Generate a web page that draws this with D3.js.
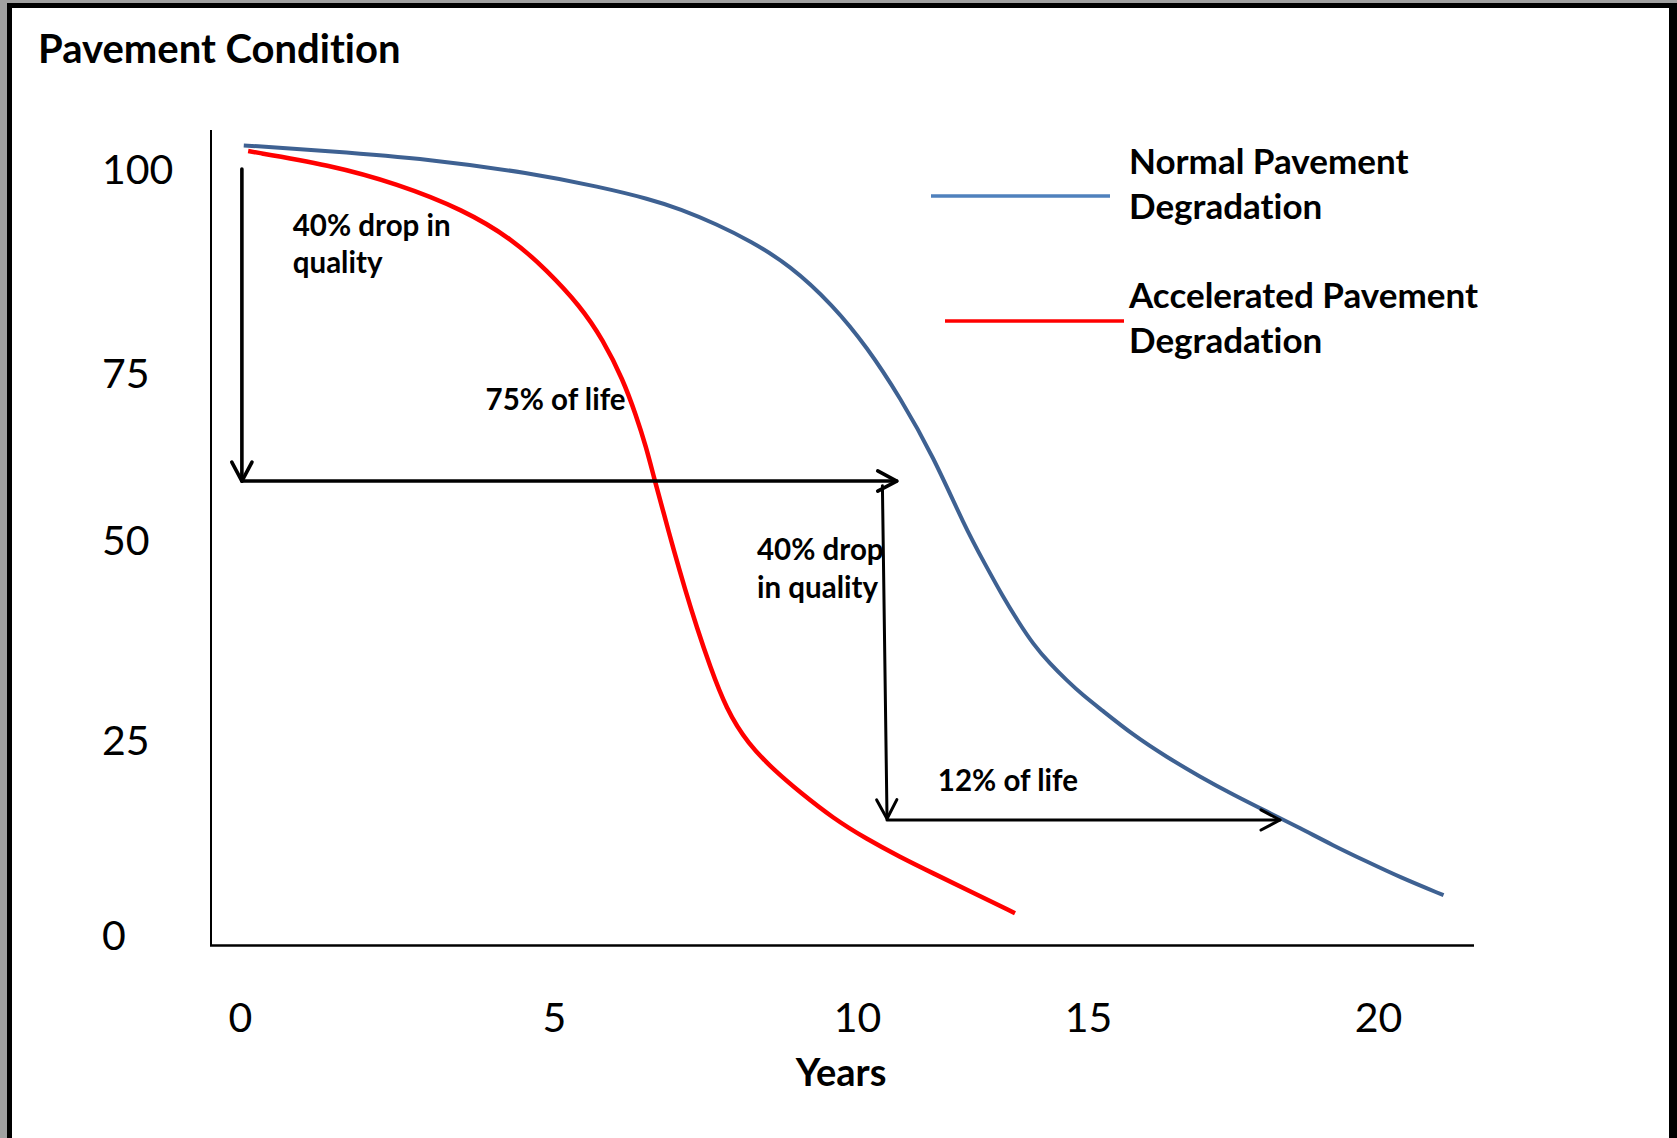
<!DOCTYPE html>
<html>
<head>
<meta charset="utf-8">
<script src="https://cdn.jsdelivr.net/npm/d3@7"></script>
<style>
  html, body { margin: 0; padding: 0; background: #a0a0a0; }
  svg { display: block; }
  text { font-family: Lato, "Open Sans", "DejaVu Sans", sans-serif; fill: #000;
         font-variant-ligatures: none; font-feature-settings: "liga" 0, "clig" 0; }
</style>
</head>
<body>
<svg id="chart" width="1677" height="1138"></svg>
<script>
// ---------------- DATA ----------------
const titleText = "Pavement Condition";
const xAxisTitle = "Years";
const xTicks = [0, 5, 10, 15, 20];
const yTicks = [0, 25, 50, 75, 100];

const seriesNames = ["Normal Pavement Degradation", "Accelerated Pavement Degradation"];
const seriesLabelLines = [["Normal Pavement", "Degradation"], ["Accelerated Pavement", "Degradation"]];

// Normal pavement degradation (years, condition)
const normalYears     = [0.06, 1.43, 3.03, 4.62, 5.76, 6.58, 7.08, 7.69, 8.23, 8.89, 9.60, 10.22, 10.93, 11.65, 12.34,
                         12.77, 13.16, 13.49, 13.81, 14.18, 14.55, 14.89, 15.21, 15.78, 16.36, 16.93, 17.50, 18.09,
                         18.66, 19.22, 19.81, 20.38, 21.13];
const normalCondition = [102.9, 102.2, 101.2, 99.5, 97.8, 96.3, 95.1, 93.2, 91.2, 88.2, 83.3, 78.1, 71.3, 62.5, 51.9,
                         47.0, 42.9, 39.8, 37.0, 34.5, 32.4, 30.6, 28.9, 25.6, 22.8, 20.3, 18.0, 15.8,
                         13.7, 11.5, 9.4, 7.4, 5.1];

// Accelerated pavement degradation (years, condition)
const acceleratedYears     = [0.13, 1.43, 2.50, 3.56, 4.35, 4.88, 5.43, 5.81, 6.14, 6.35, 6.52, 6.65, 6.82, 6.98,
                              7.16, 7.36, 7.57, 7.84, 8.20, 8.65, 9.06, 9.60, 10.21, 10.93, 11.65, 12.45, 13.42];
const acceleratedCondition = [102.2, 100.5, 98.2, 95.0, 91.3, 87.6, 83.2, 79.0, 73.9, 68.7, 63.9, 59.3, 53.7, 48.6,
                              43.9, 39.0, 34.3, 28.9, 24.5, 21.0, 18.3, 15.0, 12.3, 10.0, 7.9, 5.6, 2.8];

// Annotation arrows (years, condition)
const arrowX1 = [0.03, 0.03, 10.55, 10.65];
const arrowY1 = [100.0, 58.8, 58.1, 14.75];
const arrowX2 = [0.03, 10.86, 10.65, 18.31];
const arrowY2 = [58.8, 58.8, 14.9, 14.75];

// Annotation texts, anchored at (years, condition)
const annotationLines = [["40% drop in", "quality"], ["75% of life"], ["40% drop", "in quality"], ["12% of life"]];
const annotationYears = [0.84, 3.91, 8.35, 11.75];
const annotationCondition = [91.8, 69.4, 47.5, 18.5];

// ---------------- DRAW ----------------
const W = 1677, H = 1138;
const svg = d3.select("#chart");

// frame
svg.append("rect").attr("x", 0).attr("y", 0).attr("width", W).attr("height", H).attr("fill", "#a0a0a0");
svg.append("rect").attr("x", 7).attr("y", 3).attr("width", W - 7).attr("height", H - 3).attr("fill", "#000");
svg.append("rect").attr("x", 12).attr("y", 8).attr("width", 1669 - 12).attr("height", H - 8).attr("fill", "#fff");

// scales (hand-drawn diagram: tick labels are unevenly spaced, so polylinear scales)
const x = d3.scaleLinear().domain(xTicks).range([240, 554, 857, 1088, 1378]);
const y = d3.scaleLinear().domain(yTicks).range([935, 740, 540, 372.5, 169]);

// axis lines
svg.append("line").attr("x1", 211).attr("x2", 211).attr("y1", 130).attr("y2", 946)
  .attr("stroke", "#000").attr("stroke-width", 2);
svg.append("line").attr("x1", 210).attr("x2", 1474).attr("y1", 945.5).attr("y2", 945.5)
  .attr("stroke", "#000").attr("stroke-width", 2.5);

// y tick labels
const yAxisG = svg.append("g").attr("transform", "translate(102,0)")
  .call(d3.axisLeft(y).tickValues(yTicks).tickSize(0).tickPadding(0).tickFormat(d3.format("d")));
yAxisG.select(".domain").remove();
yAxisG.selectAll("text").attr("text-anchor", "start").attr("x", 0).attr("dy", "0.36em")
  .style("font-family", "Lato, 'Open Sans', sans-serif").style("font-size", "41px").style("font-weight", 400);

// x tick labels
const xAxisG = svg.append("g").attr("transform", "translate(0,1032)")
  .call(d3.axisBottom(x).tickValues(xTicks).tickSize(0).tickPadding(0).tickFormat(d3.format("d")));
xAxisG.select(".domain").remove();
xAxisG.selectAll("text").attr("y", 0).attr("dy", 0)
  .style("font-family", "Lato, 'Open Sans', sans-serif").style("font-size", "41px").style("font-weight", 400);

// x axis title
svg.append("text").attr("x", 841).attr("y", 1086).attr("text-anchor", "middle")
  .style("font-size", "38px").style("font-weight", 700).text(xAxisTitle);

// title
svg.append("text").attr("x", 38).attr("y", 63)
  .style("font-size", "40px").style("font-weight", 700).text(titleText);

// curves (smooth B-spline through the read points)
const line = d3.line().x(d => x(d[0])).y(d => y(d[1])).curve(d3.curveBasis);
const normalData = normalYears.map((v, i) => [v, normalCondition[i]]);
const accelData = acceleratedYears.map((v, i) => [v, acceleratedCondition[i]]);
svg.append("path").datum(normalData).attr("d", line)
  .attr("fill", "none").attr("stroke", "#3E6192").attr("stroke-width", 4).attr("stroke-linecap", "butt");
svg.append("path").datum(accelData).attr("d", line)
  .attr("fill", "none").attr("stroke", "#FF0000").attr("stroke-width", 4.5).attr("stroke-linecap", "butt");

// arrows
const armLen = 21.5, armAng = 28 * Math.PI / 180;
const arrowWidths = [3.6, 3.6, 3, 3];
arrowX1.forEach((_, i) => {
  const x1 = x(arrowX1[i]), y1 = y(arrowY1[i]), x2 = x(arrowX2[i]), y2 = y(arrowY2[i]);
  const g = svg.append("g").attr("stroke", "#000").attr("fill", "none")
    .attr("stroke-width", arrowWidths[i]).attr("stroke-linecap", "round").attr("stroke-linejoin", "round");
  g.append("line").attr("x1", x1).attr("y1", y1).attr("x2", x2).attr("y2", y2);
  const th = Math.atan2(y2 - y1, x2 - x1);
  const a1 = [x2 - armLen * Math.cos(th - armAng), y2 - armLen * Math.sin(th - armAng)];
  const a2 = [x2 - armLen * Math.cos(th + armAng), y2 - armLen * Math.sin(th + armAng)];
  g.append("path").attr("d", `M${a1[0]},${a1[1]}L${x2},${y2}L${a2[0]},${a2[1]}`);
});

// annotation texts
annotationLines.forEach((lines, i) => {
  const t = svg.append("text").attr("x", x(annotationYears[i])).attr("y", y(annotationCondition[i]))
    .style("font-size", "29.5px").style("font-weight", 700);
  lines.forEach((s, j) => {
    t.append("tspan").attr("x", x(annotationYears[i])).attr("dy", j === 0 ? 0 : 37.5).text(s);
  });
});

// legend
const legendColors = ["#4F81BD", "#FF0000"];
const legendLineX1 = [931, 945];
const legendLineX2 = [1110, 1124];
const legendLineY = [196, 321];
const legendTextY = [174, 308];
seriesNames.forEach((name, i) => {
  svg.append("line").attr("x1", legendLineX1[i]).attr("x2", legendLineX2[i])
    .attr("y1", legendLineY[i]).attr("y2", legendLineY[i])
    .attr("stroke", legendColors[i]).attr("stroke-width", 3.5);
  const t = svg.append("text").attr("x", 1129).attr("y", legendTextY[i])
    .style("font-size", "35px").style("font-weight", 700).attr("aria-label", name);
  seriesLabelLines[i].forEach((s, j) => {
    t.append("tspan").attr("x", 1129).attr("dy", j === 0 ? 0 : 44.5).text(s);
  });
});
</script>
</body>
</html>
